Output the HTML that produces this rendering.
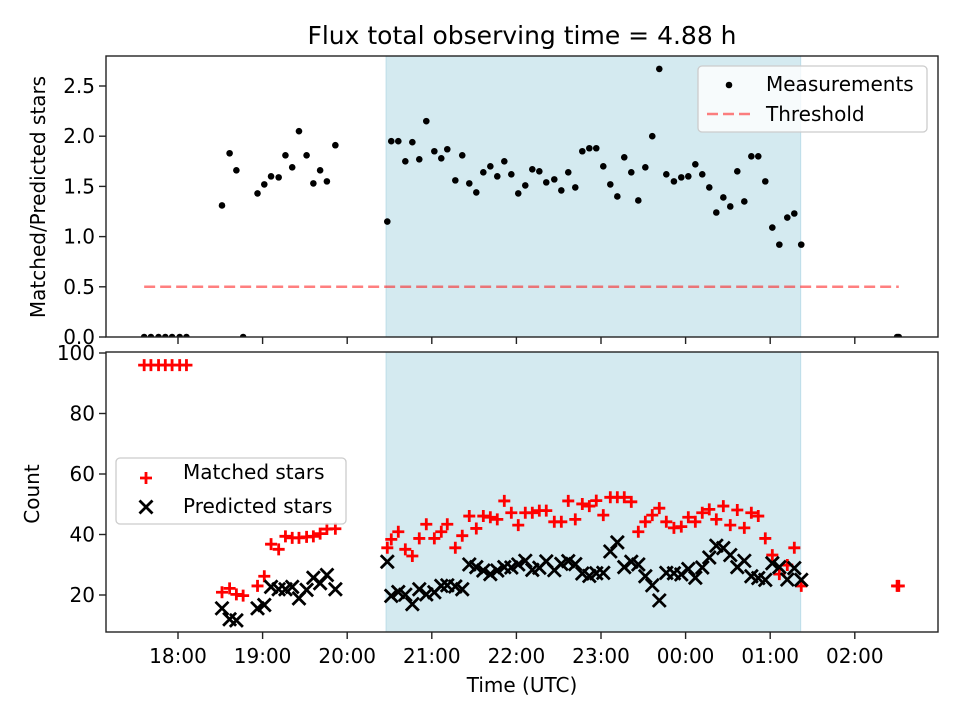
<!DOCTYPE html>
<html><head><meta charset="utf-8"><style>
html,body{margin:0;padding:0;background:#fff;}
svg{display:block;font-family:"DejaVu Sans","Liberation Sans",sans-serif;}
</style></head><body>
<svg id="chart" width="960" height="720" xmlns="http://www.w3.org/2000/svg">
<defs>
<clipPath id="clipTop"><rect x="106" y="56" width="832" height="281"/></clipPath>
<clipPath id="clipBot"><rect x="106" y="352" width="832" height="280"/></clipPath>
</defs>
<text x="522" y="44" text-anchor="middle" font-size="25">Flux total observing time = 4.88 h</text>
<g id="topPanel"></g>
<g id="botPanel"></g>
<text x="522" y="692" text-anchor="middle" font-size="20">Time (UTC)</text>
<text transform="translate(45,197) rotate(-90)" text-anchor="middle" font-size="20">Matched/Predicted stars</text>
<text transform="translate(39,494) rotate(-90)" text-anchor="middle" font-size="20">Count</text>
</svg>
<script>
// ---- data ----
const times = [17.60,17.68,17.77,17.85,17.93,18.02,18.10,
 18.52,18.61,18.69,18.77,18.94,19.02,19.10,19.19,19.27,19.35,19.43,19.52,19.60,19.68,19.76,19.86,
 20.474,20.521,20.604,20.687,20.770,20.852,20.935,21.030,21.112,21.183,21.278,21.360,21.443,21.526,21.609,21.692,21.774,21.857,21.940,22.022,
 22.105,22.188,22.271,22.353,22.448,22.531,22.613,22.696,22.779,22.862,22.944,23.027,23.110,23.193,23.275,23.358,23.441,23.524,23.606,23.689,
 23.772,23.862,23.949,24.032,24.115,24.197,24.280,24.363,24.446,24.528,24.611,24.694,24.777,24.859,24.942,25.025,25.108,25.202,25.285,25.367,
 26.50,26.52];
const ratio = [0,0,0,0,0,0,0,
 1.31,1.83,1.66,0,1.43,1.52,1.60,1.59,1.81,1.69,2.05,1.81,1.53,1.66,1.55,1.91,
 1.15,1.95,1.95,1.75,1.94,1.77,2.15,1.85,1.78,1.87,1.56,1.81,1.53,1.44,1.64,1.70,1.60,1.75,1.62,1.43,
 1.51,1.67,1.65,1.54,1.57,1.46,1.64,1.49,1.85,1.88,1.88,1.70,1.52,1.40,1.79,1.64,1.36,1.69,2.00,2.67,
 1.62,1.55,1.59,1.60,1.72,1.62,1.49,1.24,1.39,1.30,1.65,1.35,1.80,1.80,1.55,1.09,0.92,1.19,1.23,0.92,
 0,0];
const matched = [96,96,96,96,96,96,96,
 20.9,22.2,20.2,19.8,23.0,26.2,36.8,35.1,39.4,38.9,38.9,39.2,39.4,40.3,41.8,41.9,
 35.6,38.4,40.9,35.1,32.9,38.7,43.4,38.7,40.9,43.4,35.6,39.6,46.1,42.0,46.1,45.7,45.0,51.1,47.2,43.1,
 47.2,47.2,47.9,47.9,44.2,44.2,51.1,45.0,50.1,49.4,51.2,46.4,52.3,52.3,52.3,50.8,40.9,44.2,46.4,48.7,
 44.2,42.2,42.6,45.7,44.2,47.2,48.3,45.0,49.4,43.1,48.1,42.2,47.2,46.1,38.7,33.2,26.9,29.9,35.6,23.0,
 23,23];
const predicted = [null,null,null,null,null,null,null,
 15.6,12.0,11.6,null,15.6,16.7,22.7,21.9,21.9,22.7,18.9,21.7,25.7,23.9,26.6,21.9,
 31.0,19.7,21.0,20.1,17.0,21.9,20.2,20.9,23.0,23.2,22.8,21.9,30.1,29.2,28.1,26.9,28.1,29.2,29.1,30.1,
 31.3,28.3,29.0,31.1,28.2,30.3,31.2,30.2,27.1,26.3,27.2,27.3,34.4,37.4,29.2,31.0,30.1,26.2,23.2,18.2,
 27.3,27.2,26.8,28.6,25.7,29.1,32.4,36.3,35.5,33.2,29.2,31.3,26.2,25.6,25.0,30.5,29.2,25.1,28.9,25.0,
 null,null];
const threshold = [0.5];
const thresholdSpan = [17.60, 26.52];
const shadeSpan = [20.46, 25.36];
const xTicks = [18,19,20,21,22,23,24,25,26];
const xTickLabels = ["18:00","19:00","20:00","21:00","22:00","23:00","00:00","01:00","02:00"];
const topYTicks = [0,0.5,1.0,1.5,2.0,2.5];
const botYTicks = [20,40,60,80,100];

// ---- scales ----
const L=106,R=938;
const X = h => 178 + (h-18)*84.6;
const YT = v => 337 - v*100.4;
const YB = v => 595 - (v-20)*3.025;
const NS="http://www.w3.org/2000/svg";
function mk(parent,tag,attrs){const e=document.createElementNS(NS,tag);for(const k in attrs)e.setAttribute(k,attrs[k]);parent.appendChild(e);return e;}
const topG=document.getElementById('topPanel'), botG=document.getElementById('botPanel');

function panel(g,y0,y1,clip){
  mk(g,'rect',{x:L,y:y0,width:R-L,height:y1-y0,fill:'#fff'});
  const s=mk(g,'rect',{x:X(shadeSpan[0]),y:y0,width:X(shadeSpan[1])-X(shadeSpan[0]),height:y1-y0,fill:'#d4eaf0',stroke:'#bcdde8','stroke-width':1});
  
  
  const pts=mk(g,'g',{'clip-path':'url(#'+clip+')'});
  return pts;
}
function frame(g,y0,y1,labels){
  mk(g,'rect',{x:L,y:y0,width:R-L,height:y1-y0,fill:'none',stroke:'#222','stroke-width':1.4});
  xTicks.forEach((t,i)=>{
    mk(g,'line',{x1:X(t),x2:X(t),y1:y1,y2:y1+7,stroke:'#222','stroke-width':1.4});
    if(labels){const tx=mk(g,'text',{x:X(t),y:y1+31,'text-anchor':'middle','font-size':20});tx.textContent=xTickLabels[i];
      
      }
  });
}

// top panel
const tp=panel(topG,56,337,'clipTop');
const th=mk(tp,'line',{x1:X(thresholdSpan[0]),x2:X(thresholdSpan[1]),y1:YT(threshold[0]),y2:YT(threshold[0]),stroke:'#ff0000','stroke-opacity':0.5,'stroke-width':2.5,'stroke-dasharray':'11,5'});


times.forEach((t,i)=>{
  const c=mk(tp,'circle',{cx:X(t),cy:YT(ratio[i]),r:3.3,fill:'#000'});
  
  
});
frame(topG,56,337,false);
topYTicks.forEach(v=>{
  mk(topG,'line',{x1:L-7,x2:L,y1:YT(v),y2:YT(v),stroke:'#222','stroke-width':1.4});
  const tx=mk(topG,'text',{x:L-11,y:YT(v)+7,'text-anchor':'end','font-size':20});tx.textContent=v.toFixed(1);
  
  
});
// top legend
const lg=mk(topG,'g',{});


mk(lg,'rect',{x:698,y:66,width:229,height:66,rx:4,fill:'#fff','fill-opacity':0.8,stroke:'#ccc','stroke-width':1.3});
mk(lg,'circle',{cx:729,cy:85,r:3.3,fill:'#000'});
let t1=mk(lg,'text',{x:766,y:91,'font-size':20});t1.textContent='Measurements';
mk(lg,'line',{x1:707,x2:751,y1:114,y2:114,stroke:'#ff0000','stroke-opacity':0.5,'stroke-width':2.5,'stroke-dasharray':'11,5'});
let t2=mk(lg,'text',{x:766,y:121,'font-size':20});t2.textContent='Threshold';

// bottom panel
const bp=panel(botG,352,632,'clipBot');
function plus(g,x,y){const p=mk(g,'path',{d:`M${x-6},${y}H${x+6}M${x},${y-6}V${y+6}`,stroke:'#ff0000','stroke-width':2.8,fill:'none'});return p;}
function cross(g,x,y){const p=mk(g,'path',{d:`M${x-6.5},${y-6.5}L${x+6.5},${y+6.5}M${x-6.5},${y+6.5}L${x+6.5},${y-6.5}`,stroke:'#000','stroke-width':2.8,fill:'none'});return p;}
times.forEach((t,i)=>{
  const p=plus(bp,X(t),YB(matched[i]));
  
  
});
times.forEach((t,i)=>{
  if(predicted[i]===null) return;
  const p=cross(bp,X(t),YB(predicted[i]));
  
  
});
frame(botG,352,632,true);
botYTicks.forEach(v=>{
  mk(botG,'line',{x1:L-7,x2:L,y1:YB(v),y2:YB(v),stroke:'#222','stroke-width':1.4});
  const tx=mk(botG,'text',{x:L-11,y:YB(v)+7,'text-anchor':'end','font-size':20});tx.textContent=String(v);
  
  
});
const lb=mk(botG,'g',{});


mk(lb,'rect',{x:116,y:458,width:230,height:66,rx:4,fill:'#fff','fill-opacity':0.8,stroke:'#ccc','stroke-width':1.3});
plus(lb,146,478);
let t3=mk(lb,'text',{x:183,y:479,'font-size':20});t3.textContent='Matched stars';
cross(lb,146,507);
let t4=mk(lb,'text',{x:183,y:513,'font-size':20});t4.textContent='Predicted stars';
</script>
</body></html>
